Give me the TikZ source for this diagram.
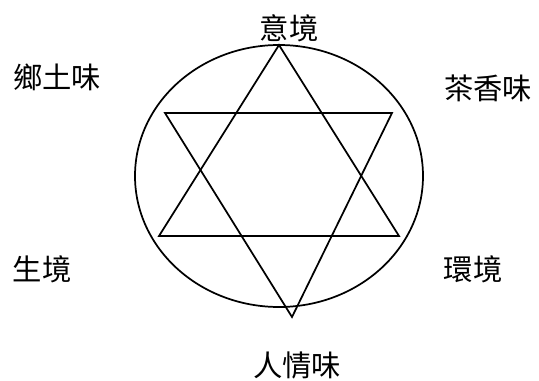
\documentclass[tikz,border=0pt]{standalone}
\usepackage{fontspec}
\newfontfamily\cjk{Noto Sans CJK TC}
\begin{document}
\begin{tikzpicture}[x=0.75pt,y=-0.75pt,
  lbl/.style={font=\cjk\fontsize{22}{24}\selectfont, inner sep=0pt},
  shape line/.style={line width=1.3pt, line join=miter}]
\useasboundingbox (0,0) rectangle (539,381);
\coordinate (C) at (279,176);
\draw[shape line] (C) ellipse [x radius=144, y radius=131];
% upward triangle
\coordinate (U1) at (279,45);
\coordinate (U2) at (159,236);
\coordinate (U3) at (399,236);
\draw[shape line] (U1) -- (U2) -- (U3) -- cycle;
% downward triangle
\coordinate (D1) at (165,113);
\coordinate (D2) at (392,113);
\coordinate (D3) at (292,317);
\draw[shape line] (D1) -- (D2) -- (D3) -- cycle;
% labels
\node[lbl] (top) at (289,28) {意境};
\node[lbl] (tl) at (57,77) {鄉土味};
\node[lbl] (tr) at (488,88) {茶香味};
\node[lbl] (bl) at (42,269) {生境};
\node[lbl] (br) at (473,269) {環境};
\node[lbl] (bot) at (297,365) {人情味};
\end{tikzpicture}
\end{document}
